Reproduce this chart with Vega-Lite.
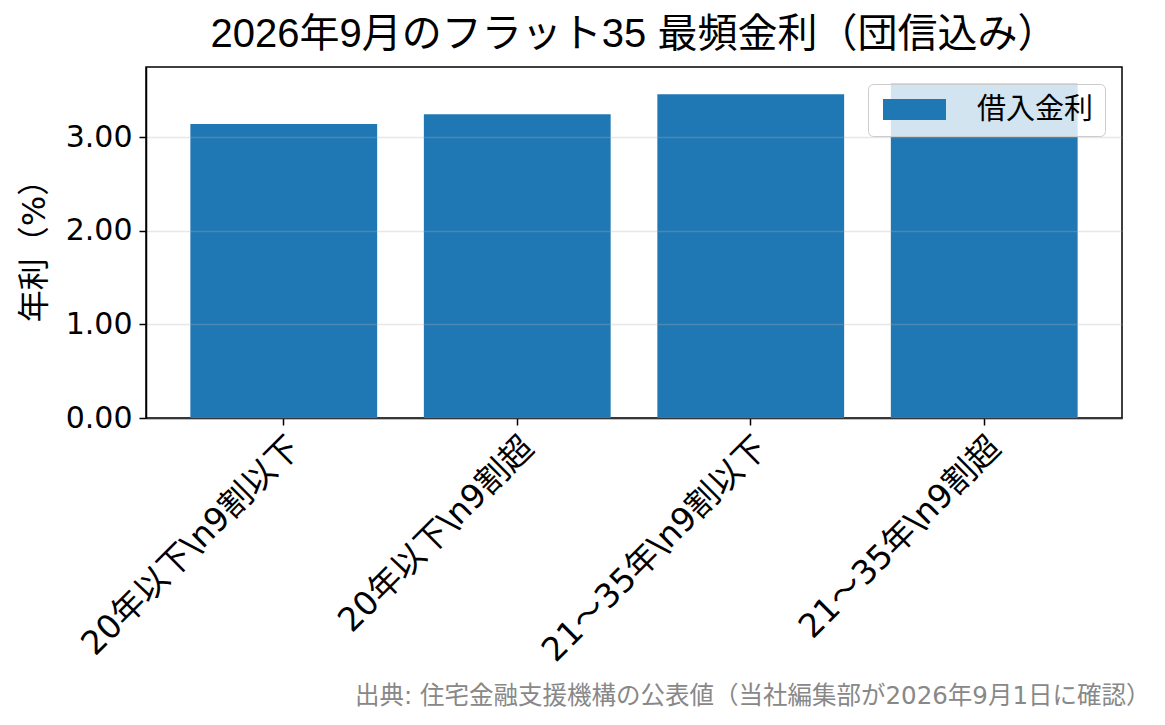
{
  "$schema": "https://vega.github.io/schema/vega-lite/v6.json",
  "autosize": "none",
  "width": 976,
  "height": 351,
  "padding": {"left": 146, "top": 67, "right": 43, "bottom": 307},
  "background": "white",
  "title": {
    "text": "2026年9月のフラット35 最頻金利（団信込み）",
    "font": "Liberation Sans, Noto Sans CJK JP",
    "fontSize": 40,
    "fontWeight": "normal",
    "color": "black",
    "offset": 12
  },
  "data": {
    "values": [
      {"category": "20年以下\\n9割以下", "rate": 3.14, "series": "借入金利"},
      {"category": "20年以下\\n9割超", "rate": 3.245, "series": "借入金利"},
      {"category": "21〜35年\\n9割以下", "rate": 3.46, "series": "借入金利"},
      {"category": "21〜35年\\n9割超", "rate": 3.57, "series": "借入金利"}
    ]
  },
  "mark": {"type": "bar"},
  "encoding": {
    "x": {
      "field": "category",
      "type": "nominal",
      "sort": null,
      "scale": {"paddingInner": 0.2, "paddingOuter": 0.19},
      "axis": {
        "title": "出典: 住宅金融支援機構の公表値（当社編集部が2026年9月1日に確認）",
        "titleFont": "DejaVu Sans, Noto Sans CJK JP",
        "titleAnchor": "end",
        "titleX": 1004,
        "titleY": 285,
        "titleBaseline": "alphabetic",
        "titleFontSize": 24.5,
        "titleFontWeight": "normal",
        "titleColor": "#888888",
        "labelFont": "DejaVu Sans, Noto Sans CJK JP",
        "labelAngle": -45,
        "labelAlign": "right",
        "labelBaseline": "top",
        "labelFontSize": 33,
        "labelLimit": 0,
        "labelColor": "black",
        "labelPadding": 6,
        "tickSize": 7,
        "tickColor": "black",
        "tickWidth": 1.5,
        "domainColor": "black",
        "domainWidth": 1.5,
        "grid": false
      }
    },
    "y": {
      "field": "rate",
      "type": "quantitative",
      "scale": {"domain": [0, 3.75], "nice": false},
      "axis": {
        "title": "年利（%）",
        "titleFont": "DejaVu Sans, Noto Sans CJK JP",
        "titleFontSize": 32,
        "titleFontWeight": "normal",
        "titleColor": "black",
        "titlePadding": 14,
        "values": [0, 1, 2, 3],
        "format": ".2f",
        "labelFont": "DejaVu Sans",
        "labelFontSize": 30,
        "labelColor": "black",
        "labelPadding": 7,
        "tickSize": 7,
        "tickColor": "black",
        "tickWidth": 1.5,
        "domainColor": "black",
        "domainWidth": 1.5,
        "gridColor": "#b0b0b0",
        "gridOpacity": 0.3,
        "gridWidth": 1.5,
        "zindex": 1
      }
    },
    "color": {
      "field": "series",
      "type": "nominal",
      "scale": {"range": ["#1f77b4"]},
      "legend": {
        "title": null,
        "orient": "top-right",
        "offset": 17,
        "padding": 11,
        "fillColor": "rgba(255,255,255,0.8)",
        "strokeColor": "#cccccc",
        "cornerRadius": 5,
        "symbolType": "M-1,-1H5V1H-1Z",
        "symbolSize": 441,
        "symbolStrokeWidth": 0,
        "symbolOpacity": 1,
        "labelFont": "Noto Sans CJK JP",
        "labelFontSize": 29,
        "labelColor": "black",
        "labelOffset": 69,
        "zindex": 2
      }
    }
  },
  "config": {
    "font": "Noto Sans CJK JP",
    "view": {"stroke": "black", "strokeWidth": 1.5}
  }
}
